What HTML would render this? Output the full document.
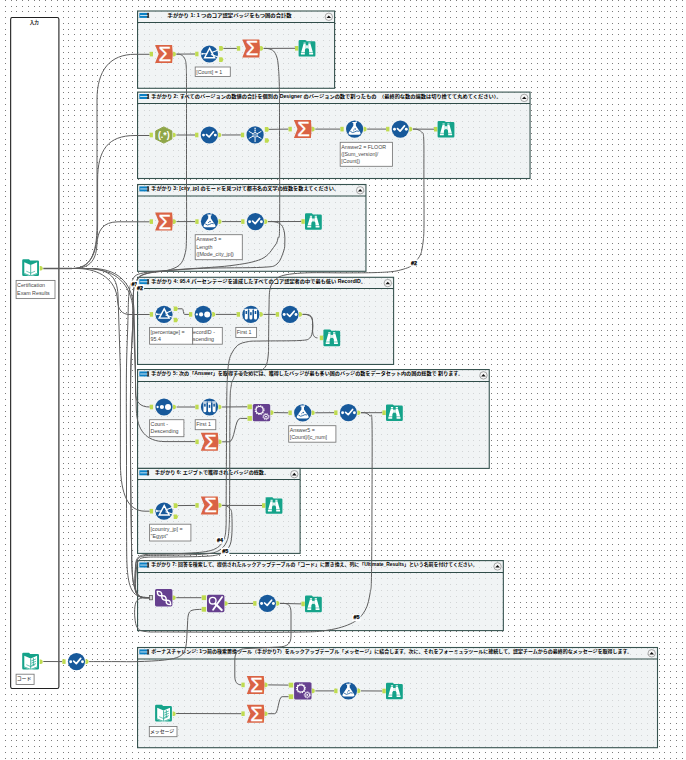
<!DOCTYPE html>
<html lang="ja"><head><meta charset="utf-8"><title>Alteryx workflow</title>
<style>html,body{margin:0;padding:0;background:#fff;}body{width:686px;height:760px;overflow:hidden;}svg{display:block;}text{font-family:"Liberation Sans", "Noto Sans CJK JP", sans-serif;}</style>
</head><body>
<svg width="686" height="760" viewBox="0 0 686 760">
<defs><g id="dr" fill="#7c7c7c" shape-rendering="crispEdges">
<rect x="5" width="1" height="1"/><rect x="11" width="1" height="1"/><rect x="16" width="1" height="1"/><rect x="22" width="1" height="1"/><rect x="28" width="1" height="1"/><rect x="34" width="1" height="1"/><rect x="39" width="1" height="1"/><rect x="45" width="1" height="1"/><rect x="51" width="1" height="1"/><rect x="57" width="1" height="1"/><rect x="63" width="1" height="1"/><rect x="68" width="1" height="1"/><rect x="74" width="1" height="1"/><rect x="80" width="1" height="1"/><rect x="86" width="1" height="1"/><rect x="92" width="1" height="1"/><rect x="97" width="1" height="1"/><rect x="103" width="1" height="1"/><rect x="109" width="1" height="1"/><rect x="115" width="1" height="1"/><rect x="120" width="1" height="1"/><rect x="126" width="1" height="1"/><rect x="132" width="1" height="1"/><rect x="138" width="1" height="1"/><rect x="144" width="1" height="1"/><rect x="149" width="1" height="1"/><rect x="155" width="1" height="1"/><rect x="161" width="1" height="1"/><rect x="167" width="1" height="1"/><rect x="173" width="1" height="1"/><rect x="178" width="1" height="1"/><rect x="184" width="1" height="1"/><rect x="190" width="1" height="1"/><rect x="196" width="1" height="1"/><rect x="202" width="1" height="1"/><rect x="207" width="1" height="1"/><rect x="213" width="1" height="1"/><rect x="219" width="1" height="1"/><rect x="225" width="1" height="1"/><rect x="230" width="1" height="1"/><rect x="236" width="1" height="1"/><rect x="242" width="1" height="1"/><rect x="248" width="1" height="1"/><rect x="254" width="1" height="1"/><rect x="259" width="1" height="1"/><rect x="265" width="1" height="1"/><rect x="271" width="1" height="1"/><rect x="277" width="1" height="1"/><rect x="283" width="1" height="1"/><rect x="288" width="1" height="1"/><rect x="294" width="1" height="1"/><rect x="300" width="1" height="1"/><rect x="306" width="1" height="1"/><rect x="311" width="1" height="1"/><rect x="317" width="1" height="1"/><rect x="323" width="1" height="1"/><rect x="329" width="1" height="1"/><rect x="335" width="1" height="1"/><rect x="340" width="1" height="1"/><rect x="346" width="1" height="1"/><rect x="352" width="1" height="1"/><rect x="358" width="1" height="1"/><rect x="364" width="1" height="1"/><rect x="369" width="1" height="1"/><rect x="375" width="1" height="1"/><rect x="381" width="1" height="1"/><rect x="387" width="1" height="1"/><rect x="392" width="1" height="1"/><rect x="398" width="1" height="1"/><rect x="404" width="1" height="1"/><rect x="410" width="1" height="1"/><rect x="416" width="1" height="1"/><rect x="421" width="1" height="1"/><rect x="427" width="1" height="1"/><rect x="433" width="1" height="1"/><rect x="439" width="1" height="1"/><rect x="445" width="1" height="1"/><rect x="450" width="1" height="1"/><rect x="456" width="1" height="1"/><rect x="462" width="1" height="1"/><rect x="468" width="1" height="1"/><rect x="473" width="1" height="1"/><rect x="479" width="1" height="1"/><rect x="485" width="1" height="1"/><rect x="491" width="1" height="1"/><rect x="497" width="1" height="1"/><rect x="502" width="1" height="1"/><rect x="508" width="1" height="1"/><rect x="514" width="1" height="1"/><rect x="520" width="1" height="1"/><rect x="526" width="1" height="1"/><rect x="531" width="1" height="1"/><rect x="537" width="1" height="1"/><rect x="543" width="1" height="1"/><rect x="549" width="1" height="1"/><rect x="555" width="1" height="1"/><rect x="560" width="1" height="1"/><rect x="566" width="1" height="1"/><rect x="572" width="1" height="1"/><rect x="578" width="1" height="1"/><rect x="583" width="1" height="1"/><rect x="589" width="1" height="1"/><rect x="595" width="1" height="1"/><rect x="601" width="1" height="1"/><rect x="607" width="1" height="1"/><rect x="612" width="1" height="1"/><rect x="618" width="1" height="1"/><rect x="624" width="1" height="1"/><rect x="630" width="1" height="1"/><rect x="636" width="1" height="1"/><rect x="641" width="1" height="1"/><rect x="647" width="1" height="1"/><rect x="653" width="1" height="1"/><rect x="659" width="1" height="1"/><rect x="664" width="1" height="1"/><rect x="670" width="1" height="1"/><rect x="676" width="1" height="1"/><rect x="682" width="1" height="1"/>
</g></defs>
<rect width="686" height="760" fill="#fff"/>
<g><use href="#dr" y="0"/><use href="#dr" y="6"/><use href="#dr" y="11"/><use href="#dr" y="17"/><use href="#dr" y="23"/><use href="#dr" y="29"/><use href="#dr" y="34"/><use href="#dr" y="40"/><use href="#dr" y="46"/><use href="#dr" y="52"/><use href="#dr" y="58"/><use href="#dr" y="63"/><use href="#dr" y="69"/><use href="#dr" y="75"/><use href="#dr" y="81"/><use href="#dr" y="87"/><use href="#dr" y="92"/><use href="#dr" y="98"/><use href="#dr" y="104"/><use href="#dr" y="110"/><use href="#dr" y="115"/><use href="#dr" y="121"/><use href="#dr" y="127"/><use href="#dr" y="133"/><use href="#dr" y="139"/><use href="#dr" y="144"/><use href="#dr" y="150"/><use href="#dr" y="156"/><use href="#dr" y="162"/><use href="#dr" y="168"/><use href="#dr" y="173"/><use href="#dr" y="179"/><use href="#dr" y="185"/><use href="#dr" y="191"/><use href="#dr" y="196"/><use href="#dr" y="202"/><use href="#dr" y="208"/><use href="#dr" y="214"/><use href="#dr" y="220"/><use href="#dr" y="225"/><use href="#dr" y="231"/><use href="#dr" y="237"/><use href="#dr" y="243"/><use href="#dr" y="249"/><use href="#dr" y="254"/><use href="#dr" y="260"/><use href="#dr" y="266"/><use href="#dr" y="272"/><use href="#dr" y="278"/><use href="#dr" y="283"/><use href="#dr" y="289"/><use href="#dr" y="295"/><use href="#dr" y="301"/><use href="#dr" y="306"/><use href="#dr" y="312"/><use href="#dr" y="318"/><use href="#dr" y="324"/><use href="#dr" y="330"/><use href="#dr" y="335"/><use href="#dr" y="341"/><use href="#dr" y="347"/><use href="#dr" y="353"/><use href="#dr" y="359"/><use href="#dr" y="364"/><use href="#dr" y="370"/><use href="#dr" y="376"/><use href="#dr" y="382"/><use href="#dr" y="387"/><use href="#dr" y="393"/><use href="#dr" y="399"/><use href="#dr" y="405"/><use href="#dr" y="411"/><use href="#dr" y="416"/><use href="#dr" y="422"/><use href="#dr" y="428"/><use href="#dr" y="434"/><use href="#dr" y="440"/><use href="#dr" y="445"/><use href="#dr" y="451"/><use href="#dr" y="457"/><use href="#dr" y="463"/><use href="#dr" y="468"/><use href="#dr" y="474"/><use href="#dr" y="480"/><use href="#dr" y="486"/><use href="#dr" y="492"/><use href="#dr" y="497"/><use href="#dr" y="503"/><use href="#dr" y="509"/><use href="#dr" y="515"/><use href="#dr" y="521"/><use href="#dr" y="526"/><use href="#dr" y="532"/><use href="#dr" y="538"/><use href="#dr" y="544"/><use href="#dr" y="550"/><use href="#dr" y="555"/><use href="#dr" y="561"/><use href="#dr" y="567"/><use href="#dr" y="573"/><use href="#dr" y="578"/><use href="#dr" y="584"/><use href="#dr" y="590"/><use href="#dr" y="596"/><use href="#dr" y="602"/><use href="#dr" y="607"/><use href="#dr" y="613"/><use href="#dr" y="619"/><use href="#dr" y="625"/><use href="#dr" y="631"/><use href="#dr" y="636"/><use href="#dr" y="642"/><use href="#dr" y="648"/><use href="#dr" y="654"/><use href="#dr" y="659"/><use href="#dr" y="665"/><use href="#dr" y="671"/><use href="#dr" y="677"/><use href="#dr" y="683"/><use href="#dr" y="688"/><use href="#dr" y="694"/><use href="#dr" y="700"/><use href="#dr" y="706"/><use href="#dr" y="712"/><use href="#dr" y="717"/><use href="#dr" y="723"/><use href="#dr" y="729"/><use href="#dr" y="735"/><use href="#dr" y="740"/><use href="#dr" y="746"/><use href="#dr" y="752"/><use href="#dr" y="758"/></g>
<rect x="10.65" y="17.5" width="48.25" height="671" rx="1.8" fill="#fff" stroke="#202020" stroke-width="1.1"/>
<text x="34.2" y="23.7" font-size="4.5" font-weight="700" text-anchor="middle" fill="#111">入力</text>
<rect x="137.55" y="11" width="197.05" height="77.3" fill="#ecf1f2" fill-opacity="0.76" stroke="#36534f" stroke-width="1.1"/>
<line x1="137.55" y1="22.45" x2="334.6" y2="22.45" stroke="#2f4c49" stroke-width="1.05"/>
<rect x="139.35" y="12.9" width="9.6" height="5" fill="#0c80c4"/>
<rect x="146.95" y="12.9" width="2.1" height="5" fill="#3d3d3d"/>
<rect x="140.15" y="15" width="7.4" height="0.9" fill="#fff" opacity="0.85"/>
<circle cx="328.8" cy="16.8" r="3.7" fill="#f6f6f6" stroke="#7d7d7d" stroke-width="0.65"/>
<path d="M326.5,18 l2.3,-2.6 l2.3,2.6 Z" fill="#111"/>
<text x="167.6" y="16.6" font-size="4.75" font-weight="700" fill="#000" textLength="124.1" lengthAdjust="spacingAndGlyphs">手がかり 1: 1 つのコア認定バッジをもつ国の合計数</text>
<rect x="137.55" y="92.1" width="392.5" height="86.4" fill="#ecf1f2" fill-opacity="0.76" stroke="#36534f" stroke-width="1.1"/>
<line x1="137.55" y1="103.45" x2="530.05" y2="103.45" stroke="#2f4c49" stroke-width="1.05"/>
<rect x="139.35" y="94" width="9.6" height="5" fill="#0c80c4"/>
<rect x="146.95" y="94" width="2.1" height="5" fill="#3d3d3d"/>
<rect x="140.15" y="96.1" width="7.4" height="0.9" fill="#fff" opacity="0.85"/>
<circle cx="524.25" cy="97.9" r="3.7" fill="#f6f6f6" stroke="#7d7d7d" stroke-width="0.65"/>
<path d="M521.95,99.1 l2.3,-2.6 l2.3,2.6 Z" fill="#111"/>
<text x="151.3" y="97.7" font-size="4.75" font-weight="700" fill="#000" textLength="350.2" lengthAdjust="spacingAndGlyphs">手がかり 2: すべてのバージョンの数値の合計を個別の Designer のバージョンの数で割ったもの　（最終的な数の端数は切り捨てて丸めてください）。</text>
<rect x="137.55" y="184.5" width="228.4" height="86.8" fill="#ecf1f2" fill-opacity="0.76" stroke="#36534f" stroke-width="1.1"/>
<line x1="137.55" y1="196" x2="365.95" y2="196" stroke="#2f4c49" stroke-width="1.05"/>
<rect x="139.35" y="186.4" width="9.6" height="5" fill="#0c80c4"/>
<rect x="146.95" y="186.4" width="2.1" height="5" fill="#3d3d3d"/>
<rect x="140.15" y="188.5" width="7.4" height="0.9" fill="#fff" opacity="0.85"/>
<circle cx="360.15" cy="190.3" r="3.7" fill="#f6f6f6" stroke="#7d7d7d" stroke-width="0.65"/>
<path d="M357.85,191.5 l2.3,-2.6 l2.3,2.6 Z" fill="#111"/>
<text x="151.3" y="190.1" font-size="4.75" font-weight="700" fill="#000" textLength="187.7" lengthAdjust="spacingAndGlyphs">手がかり 3: [city_jp] のモードを見つけて都市名の文字の総数を数えてください。</text>
<rect x="137.55" y="277.3" width="256.05" height="87.15" fill="#ecf1f2" fill-opacity="0.76" stroke="#36534f" stroke-width="1.1"/>
<line x1="137.55" y1="288.5" x2="393.6" y2="288.5" stroke="#2f4c49" stroke-width="1.05"/>
<rect x="139.35" y="279.2" width="9.6" height="5" fill="#0c80c4"/>
<rect x="146.95" y="279.2" width="2.1" height="5" fill="#3d3d3d"/>
<rect x="140.15" y="281.3" width="7.4" height="0.9" fill="#fff" opacity="0.85"/>
<circle cx="387.8" cy="283.1" r="3.7" fill="#f6f6f6" stroke="#7d7d7d" stroke-width="0.65"/>
<path d="M385.5,284.3 l2.3,-2.6 l2.3,2.6 Z" fill="#111"/>
<text x="151.3" y="282.9" font-size="4.75" font-weight="700" fill="#000" textLength="214.7" lengthAdjust="spacingAndGlyphs">手がかり 4: 95.4 パーセンテージを達成したすべてのコア認定者の中で最も低い RecordID。</text>
<rect x="137.55" y="369.55" width="351.7" height="98.85" fill="#ecf1f2" fill-opacity="0.76" stroke="#36534f" stroke-width="1.1"/>
<line x1="137.55" y1="381.5" x2="489.25" y2="381.5" stroke="#2f4c49" stroke-width="1.05"/>
<rect x="139.35" y="371.45" width="9.6" height="5" fill="#0c80c4"/>
<rect x="146.95" y="371.45" width="2.1" height="5" fill="#3d3d3d"/>
<rect x="140.15" y="373.55" width="7.4" height="0.9" fill="#fff" opacity="0.85"/>
<circle cx="483.45" cy="375.35" r="3.7" fill="#f6f6f6" stroke="#7d7d7d" stroke-width="0.65"/>
<path d="M481.15,376.55 l2.3,-2.6 l2.3,2.6 Z" fill="#111"/>
<text x="151.3" y="375.15" font-size="4.75" font-weight="700" fill="#000" textLength="311.7" lengthAdjust="spacingAndGlyphs">手がかり 5: 次の「Answer」を取得するためには、獲得したバッジが最も多い国のバッジの数をデータセット内の国の総数で 割ります。</text>
<rect x="137.55" y="468.4" width="162.55" height="85" fill="#ecf1f2" fill-opacity="0.76" stroke="#36534f" stroke-width="1.1"/>
<line x1="137.55" y1="479.55" x2="300.1" y2="479.55" stroke="#2f4c49" stroke-width="1.05"/>
<rect x="139.35" y="470.3" width="9.6" height="5" fill="#0c80c4"/>
<rect x="146.95" y="470.3" width="2.1" height="5" fill="#3d3d3d"/>
<rect x="140.15" y="472.4" width="7.4" height="0.9" fill="#fff" opacity="0.85"/>
<circle cx="294.3" cy="474.2" r="3.7" fill="#f6f6f6" stroke="#7d7d7d" stroke-width="0.65"/>
<path d="M292,475.4 l2.3,-2.6 l2.3,2.6 Z" fill="#111"/>
<text x="155" y="474" font-size="4.75" font-weight="700" fill="#000" textLength="114" lengthAdjust="spacingAndGlyphs">手がかり 6: エジプトで獲得されたバッジの総数。</text>
<rect x="137.55" y="560.6" width="365.8" height="70" fill="#ecf1f2" fill-opacity="0.76" stroke="#36534f" stroke-width="1.1"/>
<line x1="137.55" y1="572.5" x2="503.35" y2="572.5" stroke="#2f4c49" stroke-width="1.05"/>
<rect x="139.35" y="562.5" width="9.6" height="5" fill="#0c80c4"/>
<rect x="146.95" y="562.5" width="2.1" height="5" fill="#3d3d3d"/>
<rect x="140.15" y="564.6" width="7.4" height="0.9" fill="#fff" opacity="0.85"/>
<circle cx="497.55" cy="566.4" r="3.7" fill="#f6f6f6" stroke="#7d7d7d" stroke-width="0.65"/>
<path d="M495.25,567.6 l2.3,-2.6 l2.3,2.6 Z" fill="#111"/>
<text x="151.3" y="566.2" font-size="4.75" font-weight="700" fill="#000" textLength="326.3" lengthAdjust="spacingAndGlyphs">手がかり 7: 回答を検索して、提供されたルックアップテーブルの「コード」に置き換え、列に「Ultimate_Results」という名前を付けてください。</text>
<rect x="137.55" y="647.5" width="519.95" height="100.2" fill="#ecf1f2" fill-opacity="0.76" stroke="#36534f" stroke-width="1.1"/>
<line x1="137.55" y1="659" x2="657.5" y2="659" stroke="#2f4c49" stroke-width="1.05"/>
<rect x="139.35" y="649.4" width="9.6" height="5" fill="#0c80c4"/>
<rect x="146.95" y="649.4" width="2.1" height="5" fill="#3d3d3d"/>
<rect x="140.15" y="651.5" width="7.4" height="0.9" fill="#fff" opacity="0.85"/>
<circle cx="651.7" cy="653.3" r="3.7" fill="#f6f6f6" stroke="#7d7d7d" stroke-width="0.65"/>
<path d="M649.4,654.5 l2.3,-2.6 l2.3,2.6 Z" fill="#111"/>
<text x="151.3" y="653.1" font-size="4.75" font-weight="700" fill="#000" textLength="480.7" lengthAdjust="spacingAndGlyphs">ボーナスチャレンジ: 1つ前の検索置換ツール（手がかり7）をルックアップテーブル「メッセージ」に結合します。次に、それをフォーミュラツールに接続して、認定チームからの最終的なメッセージを取得します。</text>
<path d="M176.5,54.1 L195.1,54" fill="none" stroke="#5e5e5e" stroke-width="1"/>
<path d="M223.3,48.4 L236.8,48.4" fill="none" stroke="#5e5e5e" stroke-width="1"/>
<path d="M263.7,48.4 L295,48.3" fill="none" stroke="#5e5e5e" stroke-width="1"/>
<path d="M176.4,135 L195,135" fill="none" stroke="#5e5e5e" stroke-width="1"/>
<path d="M221.9,135 L240.8,134.95" fill="none" stroke="#5e5e5e" stroke-width="1"/>
<path d="M269,129.35 L288.4,129.1" fill="none" stroke="#5e5e5e" stroke-width="1"/>
<path d="M315.3,129.1 L340.3,129.1" fill="none" stroke="#5e5e5e" stroke-width="1"/>
<path d="M367.2,129.1 L386,129.1" fill="none" stroke="#5e5e5e" stroke-width="1"/>
<path d="M412.9,129.1 L434,129.2" fill="none" stroke="#5e5e5e" stroke-width="1"/>
<path d="M176.5,221.6 L195.2,221.6" fill="none" stroke="#5e5e5e" stroke-width="1"/>
<path d="M222.1,221.6 L241.1,221.6" fill="none" stroke="#5e5e5e" stroke-width="1"/>
<path d="M268,221.6 L301.4,221.5" fill="none" stroke="#5e5e5e" stroke-width="1"/>
<path d="M177.9,308.8 H182.4 C183.4,308.8 183.4,314.4 184.4,314.4 H188.9" fill="none" stroke="#5e5e5e" stroke-width="1"/>
<path d="M215.8,314.4 L236.6,314.4" fill="none" stroke="#5e5e5e" stroke-width="1"/>
<path d="M263.5,314.4 L275.7,314.4" fill="none" stroke="#5e5e5e" stroke-width="1"/>
<path d="M176.6,407 L195.2,407" fill="none" stroke="#5e5e5e" stroke-width="1"/>
<path d="M222.1,407 L247.3,406.8" fill="none" stroke="#5e5e5e" stroke-width="1"/>
<path d="M274.1,412.6 L288.4,412.8" fill="none" stroke="#5e5e5e" stroke-width="1"/>
<path d="M315.3,412.8 L334.1,412.7" fill="none" stroke="#5e5e5e" stroke-width="1"/>
<path d="M361,412.7 L382.4,412.7" fill="none" stroke="#5e5e5e" stroke-width="1"/>
<path d="M222.2,441.8 H229.2 C234.75,441.8 234.75,418.4 240.3,418.4 H247.3" fill="none" stroke="#5e5e5e" stroke-width="1"/>
<path d="M177.9,505.6 L195.3,505.4" fill="none" stroke="#5e5e5e" stroke-width="1"/>
<path d="M222.2,505.4 L262,505.5" fill="none" stroke="#5e5e5e" stroke-width="1"/>
<path d="M176.3,597.7 L201.5,597.7" fill="none" stroke="#5e5e5e" stroke-width="1"/>
<path d="M228.3,603.5 L253.1,603.4" fill="none" stroke="#5e5e5e" stroke-width="1"/>
<path d="M280,603.4 L301.4,603.9" fill="none" stroke="#5e5e5e" stroke-width="1"/>
<path d="M176.2,713.5 L241.3,713.7" fill="none" stroke="#5e5e5e" stroke-width="1"/>
<path d="M268.2,684.9 L288.6,685.1" fill="none" stroke="#5e5e5e" stroke-width="1"/>
<path d="M268.2,713.7 H274.7 C278.4,713.7 278.4,696.7 282.1,696.7 H288.6" fill="none" stroke="#5e5e5e" stroke-width="1"/>
<path d="M315.4,690.9 L334.1,690.9" fill="none" stroke="#5e5e5e" stroke-width="1"/>
<path d="M361,690.9 L382.4,691" fill="none" stroke="#5e5e5e" stroke-width="1"/>
<path d="M43.3,661.5 L62.2,661.6" fill="none" stroke="#5e5e5e" stroke-width="1"/>
<path d="M302.6,314.4 H306 C311,314.6 312.6,317 312.6,322 V330 C312.6,335 314,337.7 317.5,337.9" fill="none" stroke="#5e5e5e" stroke-width="1"/>
<path d="M43.3,268.5 H72" fill="none" stroke="#5e5e5e" stroke-width="1.5"/>
<path d="M60,268.5 H72 C90,268.5 97,255 97,225 V100 C97,70 110,54.3 135,54.3 H149.6" fill="none" stroke="#5e5e5e" stroke-width="1"/>
<path d="M60,268.5 H72 C90,268.5 97.6,255 97.6,225 V180 C97.6,150 108,135.5 135,135.5 H149.5" fill="none" stroke="#5e5e5e" stroke-width="1"/>
<path d="M60,268.5 H74 C88,268.5 96,262 96.9,245 C97.5,230 103,222 118,221.8 H149.6" fill="none" stroke="#5e5e5e" stroke-width="1"/>
<path d="M60,268.5 H78 C100,269 116,280 117.5,300 C118,310 122,314.5 130,314.5 H149.7" fill="none" stroke="#5e5e5e" stroke-width="1"/>
<path d="M60,268.5 H95 C120,270 133,285 134,310 L135.5,370 V392 C135.5,402 140,407 149.7,407" fill="none" stroke="#5e5e5e" stroke-width="1"/>
<path d="M60,268.5 H90 C115,270 131,283 133.2,310 L135.2,370 L136.3,410 C137,430 146,441.6 165,441.6 H195.3" fill="none" stroke="#5e5e5e" stroke-width="1"/>
<path d="M60,268.5 H85 C108,269 117,275 118,295 L120.4,370 V465 C121,495 128,511 145,511.2 H149.7" fill="none" stroke="#5e5e5e" stroke-width="1"/>
<path d="M176.5,54.2 C177.17,54.27 179.18,53.97 180.5,54.6 C181.82,55.23 183.45,56.1 184.4,58 C185.35,59.9 185.85,60.5 186.2,66 C186.55,71.5 186.45,72.83 186.5,91 C186.55,109.17 186.5,150.83 186.5,175 C186.5,199.17 186.75,222.83 186.5,236 C186.25,249.17 186.17,249.17 185,254 C183.83,258.83 182.5,262.25 179.5,265 C176.5,267.75 171.75,269.25 167,270.5 C162.25,271.75 155.5,271.5 151,272.5 C146.5,273.5 142.67,274.58 140,276.5 C137.33,278.42 136.08,281.42 135,284 C133.92,286.58 133.88,285.17 133.5,292 C133.12,298.83 133.17,311.17 132.7,325 C132.23,338.83 131.07,353.33 130.7,375 C130.33,396.67 130.38,428.33 130.5,455 C130.62,481.67 131.13,515.92 131.4,535 C131.67,554.08 131.63,561 132.1,569.5 C132.57,578 132.93,581.53 134.2,586 C135.47,590.47 137.17,594.35 139.7,596.3 C142.23,598.25 147.78,597.47 149.4,597.7" fill="none" stroke="#5e5e5e" stroke-width="1"/>
<path d="M263.7,48.4 C264.5,48.45 266.87,48.27 268.5,48.7 C270.13,49.13 272.12,49.62 273.5,51 C274.88,52.38 276,54.5 276.8,57 C277.6,59.5 277.88,61.33 278.3,66 C278.72,70.67 279.1,76 279.3,85 C279.5,94 279.45,96.67 279.5,120 C279.55,143.33 279.85,205.33 279.6,225 C279.35,244.67 278.83,234.5 278,238 C277.17,241.5 277.37,242.5 274.6,246 C271.83,249.5 268.83,255.72 261.4,259 C253.97,262.28 243.98,263.93 230,265.7 C216.02,267.47 192.38,268.3 177.5,269.6 C162.62,270.9 148.28,271.6 140.7,273.5 C133.12,275.4 133.87,278.25 132,281 C130.13,283.75 130.08,286.83 129.5,290 C128.92,293.17 128.78,294.17 128.5,300 C128.22,305.83 128.15,312.5 127.8,325 C127.45,337.5 126.62,353.33 126.4,375 C126.18,396.67 126.47,428.33 126.5,455 C126.53,481.67 126.47,515.92 126.6,535 C126.73,554.08 126.62,560.75 127.3,569.5 C127.98,578.25 128.98,583.12 130.7,587.5 C132.42,591.88 134.48,594.1 137.6,595.8 C140.72,597.5 147.43,597.38 149.4,597.7" fill="none" stroke="#5e5e5e" stroke-width="1"/>
<path d="M268,221.6 C269.17,221.65 272.75,221.33 275,221.9 C277.25,222.47 279.92,223.15 281.5,225 C283.08,226.85 283.95,230 284.5,233 C285.05,236 284.93,240 284.8,243 C284.67,246 285,247.5 283.7,251 C282.4,254.5 280.62,261.28 277,264 C273.38,266.72 274.22,266.58 262,267.3 C249.78,268.02 220.7,267.6 203.7,268.3 C186.7,269 170.45,270.3 160,271.5 C149.55,272.7 145,273.58 141,275.5 C137,277.42 137.25,280.25 136,283 C134.75,285.75 134.05,285 133.5,292 C132.95,299 133.17,311.17 132.7,325 C132.23,338.83 131.07,353.33 130.7,375 C130.33,396.67 130.38,428.33 130.5,455 C130.62,481.67 131.13,515.92 131.4,535 C131.67,554.08 131.63,561 132.1,569.5 C132.57,578 132.93,581.53 134.2,586 C135.47,590.47 137.17,594.35 139.7,596.3 C142.23,598.25 147.78,597.47 149.4,597.7" fill="none" stroke="#5e5e5e" stroke-width="1"/>
<path d="M412.9,129.1 C413.58,129.15 415.57,128.92 417,129.4 C418.43,129.88 420.38,130.57 421.5,132 C422.62,133.43 423.3,130.83 423.7,138 C424.1,145.17 423.85,160.5 423.9,175 C423.95,189.5 424.1,214.17 424,225 C423.9,235.83 423.67,235.83 423.3,240 C422.93,244.17 422.23,247.65 421.8,250 C421.37,252.35 421.33,252.65 420.7,254.1 C420.07,255.55 419.12,257.22 418,258.7 C416.88,260.18 415.4,261.63 414,263 C412.6,264.37 411.8,265.75 409.6,266.9 C407.4,268.05 403.73,269.12 400.8,269.9 C397.87,270.68 396.3,271.15 392,271.6 C387.7,272.05 382.83,272.38 375,272.6 C367.17,272.82 356.18,272.87 345,272.9 C333.82,272.93 317.9,272.45 307.9,272.8 C297.9,273.15 290.48,273.8 285,275 C279.52,276.2 277.5,277.67 275,280 C272.5,282.33 271,284.33 270,289 C269,293.67 269.23,299.5 269,308 C268.77,316.5 268.7,332.5 268.6,340 C268.5,347.5 268.72,349 268.4,353 C268.08,357 267.65,361.25 266.7,364 C265.75,366.75 264.23,368.25 262.7,369.5 C261.17,370.75 261.65,370.75 257.5,371.5 C253.35,372.25 241.85,372.68 237.8,374 C233.75,375.32 234.3,377.4 233.2,379.4 C232.1,381.4 231.73,381.63 231.2,386 C230.67,390.37 230.27,386.6 230,405.6 C229.73,424.6 229.77,479.43 229.6,500 C229.43,520.57 229.52,522 229,529 C228.48,536 228.17,538.42 226.5,542 C224.83,545.58 222.58,548.5 219,550.5 C215.42,552.5 213.17,553.22 205,554 C196.83,554.78 179.83,554.92 170,555.2 C160.17,555.48 151.4,555.03 146,555.7 C140.6,556.37 139.35,556.9 137.6,559.2 C135.85,561.5 135.92,564.78 135.5,569.5 C135.08,574.22 134.85,583.35 135.1,587.5 C135.35,591.65 135.88,592.75 137,594.4 C138.12,596.05 139.73,596.85 141.8,597.4 C143.87,597.95 148.13,597.65 149.4,597.7" fill="none" stroke="#5e5e5e" stroke-width="1"/>
<path d="M302.6,314.4 C303.33,314.45 305.6,314.27 307,314.7 C308.4,315.13 310.07,315.78 311,317 C311.93,318.22 312.33,319.83 312.6,322 C312.87,324.17 313.07,327.33 312.6,330 C312.13,332.67 311.9,336.25 309.8,338 C307.7,339.75 307.97,340 300,340.5 C292.03,341 270.62,340.82 262,341 C253.38,341.18 252.33,340.9 248.3,341.6 C244.27,342.3 240.65,343.07 237.8,345.2 C234.95,347.33 232.73,351.33 231.2,354.4 C229.67,357.47 229.25,359.43 228.6,363.6 C227.95,367.77 227.62,372.4 227.3,379.4 C226.98,386.4 226.88,385.5 226.7,405.6 C226.52,425.7 226.32,479.77 226.2,500 C226.08,520.23 226.37,520.5 226,527 C225.63,533.5 225.42,535.58 224,539 C222.58,542.42 221,545.33 217.5,547.5 C214,549.67 210.92,550.92 203,552 C195.08,553.08 179.5,553.58 170,554 C160.5,554.42 151.45,553.75 146,554.5 C140.55,555.25 139.08,556 137.3,558.5 C135.52,561 135.68,564.67 135.3,569.5 C134.92,574.33 134.72,583.35 135,587.5 C135.28,591.65 135.87,592.75 137,594.4 C138.13,596.05 139.73,596.85 141.8,597.4 C143.87,597.95 148.13,597.65 149.4,597.7" fill="none" stroke="#5e5e5e" stroke-width="1"/>
<path d="M222.2,505.4 C222.83,505.45 224.7,505.18 226,505.7 C227.3,506.22 229.03,507.12 230,508.5 C230.97,509.88 231.5,509.58 231.8,514 C232.1,518.42 232.27,529.5 231.8,535 C231.33,540.5 230.97,543.83 229,547 C227.03,550.17 224,552.45 220,554 C216,555.55 213.33,555.8 205,556.3 C196.67,556.8 179.83,556.83 170,557 C160.17,557.17 151.25,556.72 146,557.3 C140.75,557.88 140.12,558.38 138.5,560.5 C136.88,562.62 136.78,565.5 136.3,570 C135.82,574.5 135.43,583.43 135.6,587.5 C135.77,591.57 136.27,592.75 137.3,594.4 C138.33,596.05 139.78,596.85 141.8,597.4 C143.82,597.95 148.13,597.65 149.4,597.7" fill="none" stroke="#5e5e5e" stroke-width="1"/>
<path d="M361,412.7 C361.75,412.75 364,412.45 365.5,413 C367,413.55 368.92,414.33 370,416 C371.08,417.67 371.67,409 372,423 C372.33,437 372.08,474.67 372,500 C371.92,525.33 371.8,559.57 371.5,575 C371.2,590.43 371.25,586.73 370.2,592.6 C369.15,598.47 368.12,605.18 365.2,610.2 C362.28,615.22 358.97,619.37 352.7,622.7 C346.43,626.03 338.05,628.62 327.6,630.2 C317.15,631.78 316.27,631.9 290,632.2 C263.73,632.5 194,632.1 170,632 C146,631.9 151.42,632.27 146,631.6 C140.58,630.93 139.35,630.27 137.5,628 C135.65,625.73 135.33,621.53 134.9,618 C134.47,614.47 134.55,609.72 134.9,606.8 C135.25,603.88 135.82,601.97 137,600.5 C138.18,599.03 139.93,598.47 142,598 C144.07,597.53 148.17,597.75 149.4,597.7" fill="none" stroke="#5e5e5e" stroke-width="1"/>
<path d="M280,603.4 H284 C289.6,603.6 291,607 291,613 V636 C291,644 287,646.6 279,647 L246,648.6 C238,649 234.8,652 234.8,660 V676 C234.8,682 237,684.7 241.3,684.9" fill="none" stroke="#5e5e5e" stroke-width="1"/>
<path d="M89.1,661.6 C93.42,661.6 106.85,661.6 115,661.6 C123.15,661.6 129.73,661.87 138,661.6 C146.27,661.33 157.65,660.88 164.6,660 C171.55,659.12 176.2,658.3 179.7,656.3 C183.2,654.3 184.33,652.72 185.6,648 C186.87,643.28 186.85,633.5 187.3,628 C187.75,622.5 187.52,617.95 188.3,615 C189.08,612.05 189.8,611.25 192,610.3 C194.2,609.35 199.92,609.47 201.5,609.3" fill="none" stroke="#5e5e5e" stroke-width="1"/>
<rect x="130.3" y="280.5" width="8.2" height="6.8" fill="#fff"/>
<text x="134.4" y="285.5" font-size="5.4" font-weight="bold" text-anchor="middle" fill="#000" stroke="#000" stroke-width="0.25">#1</text>
<rect x="135.9" y="284.5" width="8.2" height="6.8" fill="#fff"/>
<text x="140" y="289.5" font-size="5.4" font-weight="bold" text-anchor="middle" fill="#000" stroke="#000" stroke-width="0.25">#2</text>
<rect x="409.9" y="259.5" width="8.2" height="6.8" fill="#fff"/>
<text x="414" y="264.5" font-size="5.4" font-weight="bold" text-anchor="middle" fill="#000" stroke="#000" stroke-width="0.25">#2</text>
<rect x="215.8" y="536.9" width="8.2" height="6.8" fill="#fff"/>
<text x="219.9" y="541.9" font-size="5.4" font-weight="bold" text-anchor="middle" fill="#000" stroke="#000" stroke-width="0.25">#4</text>
<rect x="221.1" y="547.7" width="8.2" height="6.8" fill="#fff"/>
<text x="225.2" y="552.7" font-size="5.4" font-weight="bold" text-anchor="middle" fill="#000" stroke="#000" stroke-width="0.25">#5</text>
<rect x="352.3" y="614.4" width="8.2" height="6.8" fill="#fff"/>
<text x="356.4" y="619.4" font-size="5.4" font-weight="bold" text-anchor="middle" fill="#000" stroke="#000" stroke-width="0.25">#5</text>
<path d="M39.7,266 h1.2 q1.9,0.2 1.9,2.3 t-1.9,2.3 h-1.2 Z" fill="#bfdb50"/>
<path d="M23.4,259.3 h5.6 l1.2,1.3 h7.6 q1.2,0 1.2,1.2 v13 q0,1.2 -1.2,1.2 h-14.4 q-1.2,0 -1.2,-1.2 v-14.3 q0,-1.2 1.2,-1.2 Z" fill="#15a38a"/>
<path d="M24.3,262.3 l6.4,2.6 l6.4,-2.6 v10.6 l-6.4,2.7 l-6.4,-2.7 Z" fill="#fff"/>
<path d="M30.7,265 v10.4" stroke="#15a38a" stroke-width="0.8"/>
<path d="M26.3,271.2 l4.4,1.9 l4.4,-1.9" fill="none" stroke="#15a38a" stroke-width="0.6"/>
<path d="M23.8,273.5 l6.9,2.9 l6.9,-2.9" fill="none" stroke="#fff" stroke-width="0.5" opacity="0.8"/>
<path d="M39.7,659.5 h1.2 q1.9,0.2 1.9,2.3 t-1.9,2.3 h-1.2 Z" fill="#bfdb50"/>
<path d="M23.4,652.8 h5.6 l1.2,1.3 h7.6 q1.2,0 1.2,1.2 v13 q0,1.2 -1.2,1.2 h-14.4 q-1.2,0 -1.2,-1.2 v-14.3 q0,-1.2 1.2,-1.2 Z" fill="#15a38a"/>
<path d="M24.3,655.8 l6.4,2.6 l6.4,-2.6 v10.6 l-6.4,2.7 l-6.4,-2.7 Z" fill="#fff"/>
<path d="M30.7,658.5 v10.4" stroke="#15a38a" stroke-width="0.8"/>
<path d="M26.3,664.7 l4.4,1.9 l4.4,-1.9" fill="none" stroke="#15a38a" stroke-width="0.6"/>
<path d="M23.8,667 l6.9,2.9 l6.9,-2.9" fill="none" stroke="#fff" stroke-width="0.5" opacity="0.8"/>
<path d="M33.4,657.9 v7.6 M31.3,660.9 l4.6,-1.9 M31.3,663.2 l4.6,-1.9 M31.3,665.5 l4.6,-1.9" fill="none" stroke="#15a38a" stroke-width="0.7"/>
<rect x="62.3" y="659.3" width="3.3" height="4.6" fill="#bfdb50"/>
<path d="M85.5,659.3 h1.2 q1.9,0.2 1.9,2.3 t-1.9,2.3 h-1.2 Z" fill="#bfdb50"/>
<circle cx="76.5" cy="661.6" r="8.6" fill="#17599b"/>
<circle cx="70.7" cy="661.7" r="1.45" fill="#fff"/>
<circle cx="82.5" cy="661.7" r="1.45" fill="#fff"/>
<path d="M73.7,661.2 L76.3,663.6 L80.7,658.4" fill="none" stroke="#fff" stroke-width="1.7" stroke-linecap="round" stroke-linejoin="round"/>
<rect x="149.7" y="51.8" width="3.3" height="4.6" fill="#bfdb50"/>
<path d="M172.9,51.8 h1.2 q1.9,0.2 1.9,2.3 t-1.9,2.3 h-1.2 Z" fill="#bfdb50"/>
<polygon points="155.1,45.1 172.1,45.1 172.8,54.1 172.1,63.1 155.1,63.1 158.7,54.1" fill="#da6344"/>
<text x="164.8" y="61" font-family='"Liberation Serif", serif' font-size="20" fill="#fff" stroke="#fff" stroke-width="0.3" text-anchor="middle" textLength="12.6" lengthAdjust="spacingAndGlyphs">Σ</text>
<rect x="195.2" y="51.7" width="3.3" height="4.6" fill="#bfdb50"/>
<path d="M219.1,46.1 h3.2 l1.2,2.3 l-1.2,2.3 h-3.2 Z" fill="#bfdb50"/>
<path d="M219.1,57.3 h3.2 l1.2,2.3 l-1.2,2.3 h-3.2 Z" fill="#bfdb50"/>
<circle cx="209.4" cy="54" r="8.6" fill="#17599b"/>
<path d="M209.6,48.4 L204.6,57.7 L214.6,57.7 Z" fill="none" stroke="#fff" stroke-width="1.45" stroke-linejoin="miter"/>
<path d="M201.6,53.8 H207.2 M210.9,52.8 L217.6,50.2 M210.9,54.6 L217.8,56.8" stroke="#fff" stroke-width="1.1" fill="none"/>
<path d="M201.5,52.4 l2.2,1.4 l-2.2,1.4 Z" fill="#fff"/>
<rect x="236.9" y="46.1" width="3.3" height="4.6" fill="#bfdb50"/>
<path d="M260.1,46.1 h1.2 q1.9,0.2 1.9,2.3 t-1.9,2.3 h-1.2 Z" fill="#bfdb50"/>
<polygon points="242.3,39.4 259.3,39.4 260,48.4 259.3,57.4 242.3,57.4 245.9,48.4" fill="#da6344"/>
<text x="252" y="55.3" font-family='"Liberation Serif", serif' font-size="20" fill="#fff" stroke="#fff" stroke-width="0.3" text-anchor="middle" textLength="12.6" lengthAdjust="spacingAndGlyphs">Σ</text>
<rect x="295" y="46" width="3.4" height="4.6" fill="#bfdb50"/>
<path d="M299.8,40 h5.6 l1.2,1.2 h7.6 q1.2,0 1.2,1.2 v13 q0,1.2 -1.2,1.2 h-14.4 q-1.2,0 -1.2,-1.2 v-14.2 q0,-1.2 1.2,-1.2 Z" fill="#15a38a"/>
<polygon points="305.7,44 303.5,44 300.8,53.5 301,54.4 304.8,54.4 305,49.5 305.7,48.6" fill="#fff"/>
<rect x="303.5" y="42.6" width="2.2" height="1" fill="#fff"/>
<polygon points="308.3,44 310.5,44 313.2,53.5 313,54.4 309.2,54.4 309,49.5 308.3,48.6" fill="#fff"/>
<rect x="308.3" y="42.6" width="2.2" height="1" fill="#fff"/>
<rect x="305.6" y="45.3" width="2.8" height="3" fill="#fff" opacity="0.85"/>
<rect x="300.5" y="52" width="13" height="0.7" fill="#15a38a" opacity="0.75"/>
<rect x="149.6" y="132.7" width="3.3" height="4.6" fill="#bfdb50"/>
<path d="M172.8,132.7 h1.2 q1.9,0.2 1.9,2.3 t-1.9,2.3 h-1.2 Z" fill="#bfdb50"/>
<polygon points="163.8,126.9 171.85,130.95 171.85,139.05 163.8,143.1 155.75,139.05 155.75,130.95" fill="#8fa648" stroke="#8fa648" stroke-width="1" stroke-linejoin="round"/>
<text x="163.8" y="137.7" font-family='"Liberation Sans", "Noto Sans CJK JP", sans-serif' font-weight="bold" font-size="8.6" fill="#fff" text-anchor="middle" textLength="11.8" lengthAdjust="spacingAndGlyphs">(.*)</text>
<rect x="195.1" y="132.7" width="3.3" height="4.6" fill="#bfdb50"/>
<path d="M218.3,132.7 h1.2 q1.9,0.2 1.9,2.3 t-1.9,2.3 h-1.2 Z" fill="#bfdb50"/>
<circle cx="209.3" cy="135" r="8.6" fill="#17599b"/>
<circle cx="203.5" cy="135.1" r="1.45" fill="#fff"/>
<circle cx="215.3" cy="135.1" r="1.45" fill="#fff"/>
<path d="M206.5,134.6 L209.1,137 L213.5,131.8" fill="none" stroke="#fff" stroke-width="1.7" stroke-linecap="round" stroke-linejoin="round"/>
<rect x="240.9" y="132.65" width="3.3" height="4.6" fill="#bfdb50"/>
<path d="M264.8,127.05 h3.2 l1.2,2.3 l-1.2,2.3 h-3.2 Z" fill="#bfdb50"/>
<path d="M264.8,138.25 h3.2 l1.2,2.3 l-1.2,2.3 h-3.2 Z" fill="#bfdb50"/>
<circle cx="255.1" cy="134.95" r="8.6" fill="#17599b"/>
<line x1="255.1" y1="127.65" x2="255.1" y2="142.25" stroke="#fff" stroke-width="1.3" stroke-dasharray="1.5 0.6"/>
<line x1="261.42" y1="131.3" x2="248.78" y2="138.6" stroke="#fff" stroke-width="0.95"/>
<line x1="261.42" y1="138.6" x2="248.78" y2="131.3" stroke="#fff" stroke-width="0.95"/>
<circle cx="255.1" cy="134.95" r="2.3" fill="#17599b" fill-opacity="0.55" stroke="#fff" stroke-width="0.7"/>
<rect x="288.5" y="126.8" width="3.3" height="4.6" fill="#bfdb50"/>
<path d="M311.7,126.8 h1.2 q1.9,0.2 1.9,2.3 t-1.9,2.3 h-1.2 Z" fill="#bfdb50"/>
<polygon points="293.9,120.1 310.9,120.1 311.6,129.1 310.9,138.1 293.9,138.1 297.5,129.1" fill="#da6344"/>
<text x="303.6" y="136" font-family='"Liberation Serif", serif' font-size="20" fill="#fff" stroke="#fff" stroke-width="0.3" text-anchor="middle" textLength="12.6" lengthAdjust="spacingAndGlyphs">Σ</text>
<rect x="340.4" y="126.8" width="3.3" height="4.6" fill="#bfdb50"/>
<path d="M363.6,126.8 h1.2 q1.9,0.2 1.9,2.3 t-1.9,2.3 h-1.2 Z" fill="#bfdb50"/>
<circle cx="354.6" cy="129.1" r="8.6" fill="#17599b"/>
<path d="M353.3,122.6 v3.2 l-4.4,6.6 q-1,2.2 1.4,2.3 h8.6 q2.4,-0.1 1.4,-2.3 l-4.4,-6.6 v-3.2 Z" fill="#fff"/>
<rect x="352.3" y="121.9" width="4.6" height="1.1" rx="0.4" fill="#fff"/>
<path d="M350.3,131.3 q2.2,2.2 4.4,0.6 t4.2,-0.6" fill="none" stroke="#17599b" stroke-width="0.85"/>
<circle cx="355.1" cy="128.9" r="0.75" fill="#17599b"/>
<circle cx="353.7" cy="130.1" r="0.5" fill="#17599b"/>
<circle cx="356.2" cy="121.2" r="0.6" fill="#fff"/>
<rect x="386.1" y="126.8" width="3.3" height="4.6" fill="#bfdb50"/>
<path d="M409.3,126.8 h1.2 q1.9,0.2 1.9,2.3 t-1.9,2.3 h-1.2 Z" fill="#bfdb50"/>
<circle cx="400.3" cy="129.1" r="8.6" fill="#17599b"/>
<circle cx="394.5" cy="129.2" r="1.45" fill="#fff"/>
<circle cx="406.3" cy="129.2" r="1.45" fill="#fff"/>
<path d="M397.5,128.7 L400.1,131.1 L404.5,125.9" fill="none" stroke="#fff" stroke-width="1.7" stroke-linecap="round" stroke-linejoin="round"/>
<rect x="434" y="126.9" width="3.4" height="4.6" fill="#bfdb50"/>
<path d="M438.8,120.9 h5.6 l1.2,1.2 h7.6 q1.2,0 1.2,1.2 v13 q0,1.2 -1.2,1.2 h-14.4 q-1.2,0 -1.2,-1.2 v-14.2 q0,-1.2 1.2,-1.2 Z" fill="#15a38a"/>
<polygon points="444.7,124.9 442.5,124.9 439.8,134.4 440,135.3 443.8,135.3 444,130.4 444.7,129.5" fill="#fff"/>
<rect x="442.5" y="123.5" width="2.2" height="1" fill="#fff"/>
<polygon points="447.3,124.9 449.5,124.9 452.2,134.4 452,135.3 448.2,135.3 448,130.4 447.3,129.5" fill="#fff"/>
<rect x="447.3" y="123.5" width="2.2" height="1" fill="#fff"/>
<rect x="444.6" y="126.2" width="2.8" height="3" fill="#fff" opacity="0.85"/>
<rect x="439.5" y="132.9" width="13" height="0.7" fill="#15a38a" opacity="0.75"/>
<rect x="149.7" y="219.3" width="3.3" height="4.6" fill="#bfdb50"/>
<path d="M172.9,219.3 h1.2 q1.9,0.2 1.9,2.3 t-1.9,2.3 h-1.2 Z" fill="#bfdb50"/>
<polygon points="155.1,212.6 172.1,212.6 172.8,221.6 172.1,230.6 155.1,230.6 158.7,221.6" fill="#da6344"/>
<text x="164.8" y="228.5" font-family='"Liberation Serif", serif' font-size="20" fill="#fff" stroke="#fff" stroke-width="0.3" text-anchor="middle" textLength="12.6" lengthAdjust="spacingAndGlyphs">Σ</text>
<rect x="195.3" y="219.3" width="3.3" height="4.6" fill="#bfdb50"/>
<path d="M218.5,219.3 h1.2 q1.9,0.2 1.9,2.3 t-1.9,2.3 h-1.2 Z" fill="#bfdb50"/>
<circle cx="209.5" cy="221.6" r="8.6" fill="#17599b"/>
<path d="M208.2,215.1 v3.2 l-4.4,6.6 q-1,2.2 1.4,2.3 h8.6 q2.4,-0.1 1.4,-2.3 l-4.4,-6.6 v-3.2 Z" fill="#fff"/>
<rect x="207.2" y="214.4" width="4.6" height="1.1" rx="0.4" fill="#fff"/>
<path d="M205.2,223.8 q2.2,2.2 4.4,0.6 t4.2,-0.6" fill="none" stroke="#17599b" stroke-width="0.85"/>
<circle cx="210" cy="221.4" r="0.75" fill="#17599b"/>
<circle cx="208.6" cy="222.6" r="0.5" fill="#17599b"/>
<circle cx="211.1" cy="213.7" r="0.6" fill="#fff"/>
<rect x="241.2" y="219.3" width="3.3" height="4.6" fill="#bfdb50"/>
<path d="M264.4,219.3 h1.2 q1.9,0.2 1.9,2.3 t-1.9,2.3 h-1.2 Z" fill="#bfdb50"/>
<circle cx="255.4" cy="221.6" r="8.6" fill="#17599b"/>
<circle cx="249.6" cy="221.7" r="1.45" fill="#fff"/>
<circle cx="261.4" cy="221.7" r="1.45" fill="#fff"/>
<path d="M252.6,221.2 L255.2,223.6 L259.6,218.4" fill="none" stroke="#fff" stroke-width="1.7" stroke-linecap="round" stroke-linejoin="round"/>
<rect x="301.4" y="219.2" width="3.4" height="4.6" fill="#bfdb50"/>
<path d="M306.2,213.2 h5.6 l1.2,1.2 h7.6 q1.2,0 1.2,1.2 v13 q0,1.2 -1.2,1.2 h-14.4 q-1.2,0 -1.2,-1.2 v-14.2 q0,-1.2 1.2,-1.2 Z" fill="#15a38a"/>
<polygon points="312.1,217.2 309.9,217.2 307.2,226.7 307.4,227.6 311.2,227.6 311.4,222.7 312.1,221.8" fill="#fff"/>
<rect x="309.9" y="215.8" width="2.2" height="1" fill="#fff"/>
<polygon points="314.7,217.2 316.9,217.2 319.6,226.7 319.4,227.6 315.6,227.6 315.4,222.7 314.7,221.8" fill="#fff"/>
<rect x="314.7" y="215.8" width="2.2" height="1" fill="#fff"/>
<rect x="312" y="218.5" width="2.8" height="3" fill="#fff" opacity="0.85"/>
<rect x="306.9" y="225.2" width="13" height="0.7" fill="#15a38a" opacity="0.75"/>
<rect x="149.8" y="312.1" width="3.3" height="4.6" fill="#bfdb50"/>
<path d="M173.7,306.5 h3.2 l1.2,2.3 l-1.2,2.3 h-3.2 Z" fill="#bfdb50"/>
<path d="M173.7,317.7 h3.2 l1.2,2.3 l-1.2,2.3 h-3.2 Z" fill="#bfdb50"/>
<circle cx="164" cy="314.4" r="8.6" fill="#17599b"/>
<path d="M164.2,308.8 L159.2,318.1 L169.2,318.1 Z" fill="none" stroke="#fff" stroke-width="1.45" stroke-linejoin="miter"/>
<path d="M156.2,314.2 H161.8 M165.5,313.2 L172.2,310.6 M165.5,315 L172.4,317.2" stroke="#fff" stroke-width="1.1" fill="none"/>
<path d="M156.1,312.8 l2.2,1.4 l-2.2,1.4 Z" fill="#fff"/>
<rect x="189" y="312.1" width="3.3" height="4.6" fill="#bfdb50"/>
<path d="M212.2,312.1 h1.2 q1.9,0.2 1.9,2.3 t-1.9,2.3 h-1.2 Z" fill="#bfdb50"/>
<circle cx="203.2" cy="314.4" r="8.6" fill="#17599b"/>
<circle cx="196.8" cy="314.4" r="1.15" fill="#fff"/>
<circle cx="201.1" cy="314.4" r="2.1" fill="#fff"/>
<circle cx="207.2" cy="314.4" r="3.0" fill="#fff"/>
<rect x="236.7" y="312.1" width="3.3" height="4.6" fill="#bfdb50"/>
<path d="M259.9,312.1 h1.2 q1.9,0.2 1.9,2.3 t-1.9,2.3 h-1.2 Z" fill="#bfdb50"/>
<circle cx="250.9" cy="314.4" r="8.6" fill="#17599b"/>
<path d="M244.8,309.8 v8.3 a1.5,1.5 0 0 0 3,0 v-8.3 Z" fill="#fff"/>
<rect x="244.3" y="308.8" width="4" height="1.1" fill="#fff"/>
<rect x="245.5" y="311" width="1.6" height="3" fill="#17599b"/>
<path d="M249.4,309.8 v8.3 a1.5,1.5 0 0 0 3,0 v-8.3 Z" fill="#fff"/>
<rect x="248.9" y="308.8" width="4" height="1.1" fill="#fff"/>
<rect x="250.1" y="312.2" width="1.6" height="3" fill="#17599b"/>
<path d="M254,309.8 v8.3 a1.5,1.5 0 0 0 3,0 v-8.3 Z" fill="#fff"/>
<rect x="253.5" y="308.8" width="4" height="1.1" fill="#fff"/>
<rect x="254.7" y="311" width="1.6" height="3" fill="#17599b"/>
<rect x="275.8" y="312.1" width="3.3" height="4.6" fill="#bfdb50"/>
<path d="M299,312.1 h1.2 q1.9,0.2 1.9,2.3 t-1.9,2.3 h-1.2 Z" fill="#bfdb50"/>
<circle cx="290" cy="314.4" r="8.6" fill="#17599b"/>
<circle cx="284.2" cy="314.5" r="1.45" fill="#fff"/>
<circle cx="296" cy="314.5" r="1.45" fill="#fff"/>
<path d="M287.2,314 L289.8,316.4 L294.2,311.2" fill="none" stroke="#fff" stroke-width="1.7" stroke-linecap="round" stroke-linejoin="round"/>
<rect x="319.8" y="335.6" width="3.4" height="4.6" fill="#bfdb50"/>
<path d="M324.6,329.6 h5.6 l1.2,1.2 h7.6 q1.2,0 1.2,1.2 v13 q0,1.2 -1.2,1.2 h-14.4 q-1.2,0 -1.2,-1.2 v-14.2 q0,-1.2 1.2,-1.2 Z" fill="#15a38a"/>
<polygon points="330.5,333.6 328.3,333.6 325.6,343.1 325.8,344 329.6,344 329.8,339.1 330.5,338.2" fill="#fff"/>
<rect x="328.3" y="332.2" width="2.2" height="1" fill="#fff"/>
<polygon points="333.1,333.6 335.3,333.6 338,343.1 337.8,344 334,344 333.8,339.1 333.1,338.2" fill="#fff"/>
<rect x="333.1" y="332.2" width="2.2" height="1" fill="#fff"/>
<rect x="330.4" y="334.9" width="2.8" height="3" fill="#fff" opacity="0.85"/>
<rect x="325.3" y="341.6" width="13" height="0.7" fill="#15a38a" opacity="0.75"/>
<rect x="149.8" y="404.7" width="3.3" height="4.6" fill="#bfdb50"/>
<path d="M173,404.7 h1.2 q1.9,0.2 1.9,2.3 t-1.9,2.3 h-1.2 Z" fill="#bfdb50"/>
<circle cx="164" cy="407" r="8.6" fill="#17599b"/>
<circle cx="157.6" cy="407" r="1.15" fill="#fff"/>
<circle cx="161.9" cy="407" r="2.1" fill="#fff"/>
<circle cx="168" cy="407" r="3.0" fill="#fff"/>
<rect x="195.3" y="404.7" width="3.3" height="4.6" fill="#bfdb50"/>
<path d="M218.5,404.7 h1.2 q1.9,0.2 1.9,2.3 t-1.9,2.3 h-1.2 Z" fill="#bfdb50"/>
<circle cx="209.5" cy="407" r="8.6" fill="#17599b"/>
<path d="M203.4,402.4 v8.3 a1.5,1.5 0 0 0 3,0 v-8.3 Z" fill="#fff"/>
<rect x="202.9" y="401.4" width="4" height="1.1" fill="#fff"/>
<rect x="204.1" y="403.6" width="1.6" height="3" fill="#17599b"/>
<path d="M208,402.4 v8.3 a1.5,1.5 0 0 0 3,0 v-8.3 Z" fill="#fff"/>
<rect x="207.5" y="401.4" width="4" height="1.1" fill="#fff"/>
<rect x="208.7" y="404.8" width="1.6" height="3" fill="#17599b"/>
<path d="M212.6,402.4 v8.3 a1.5,1.5 0 0 0 3,0 v-8.3 Z" fill="#fff"/>
<rect x="212.1" y="401.4" width="4" height="1.1" fill="#fff"/>
<rect x="213.3" y="403.6" width="1.6" height="3" fill="#17599b"/>
<rect x="247.5" y="404.4" width="4.4" height="4.8" fill="#bfdb50"/>
<rect x="247.5" y="416" width="4.4" height="4.8" fill="#bfdb50"/>
<path d="M270.5,410.3 h1.2 q1.9,0.2 1.9,2.3 t-1.9,2.3 h-1.2 Z" fill="#bfdb50"/>
<rect x="252.8" y="403.9" width="17.4" height="17.4" rx="1.6" fill="#66408f"/>
<circle cx="259.6" cy="410.1" r="4.4" fill="none" stroke="#fff" stroke-width="1.1" stroke-dasharray="1.15 1.154"/>
<circle cx="259.6" cy="410.1" r="3.55" fill="none" stroke="#fff" stroke-width="1.1"/>
<circle cx="266" cy="416.6" r="3.6" fill="#66408f"/>
<circle cx="266" cy="416.6" r="3.1" fill="none" stroke="#fff" stroke-width="0.9" stroke-dasharray="0.97 0.978"/>
<circle cx="266" cy="416.6" r="2.35" fill="none" stroke="#fff" stroke-width="0.9"/>
<circle cx="266" cy="416.6" r="0.95" fill="#fff"/>
<rect x="288.5" y="410.5" width="3.3" height="4.6" fill="#bfdb50"/>
<path d="M311.7,410.5 h1.2 q1.9,0.2 1.9,2.3 t-1.9,2.3 h-1.2 Z" fill="#bfdb50"/>
<circle cx="302.7" cy="412.8" r="8.6" fill="#17599b"/>
<path d="M301.4,406.3 v3.2 l-4.4,6.6 q-1,2.2 1.4,2.3 h8.6 q2.4,-0.1 1.4,-2.3 l-4.4,-6.6 v-3.2 Z" fill="#fff"/>
<rect x="300.4" y="405.6" width="4.6" height="1.1" rx="0.4" fill="#fff"/>
<path d="M298.4,415 q2.2,2.2 4.4,0.6 t4.2,-0.6" fill="none" stroke="#17599b" stroke-width="0.85"/>
<circle cx="303.2" cy="412.6" r="0.75" fill="#17599b"/>
<circle cx="301.8" cy="413.8" r="0.5" fill="#17599b"/>
<circle cx="304.3" cy="404.9" r="0.6" fill="#fff"/>
<rect x="334.2" y="410.4" width="3.3" height="4.6" fill="#bfdb50"/>
<path d="M357.4,410.4 h1.2 q1.9,0.2 1.9,2.3 t-1.9,2.3 h-1.2 Z" fill="#bfdb50"/>
<circle cx="348.4" cy="412.7" r="8.6" fill="#17599b"/>
<circle cx="342.6" cy="412.8" r="1.45" fill="#fff"/>
<circle cx="354.4" cy="412.8" r="1.45" fill="#fff"/>
<path d="M345.6,412.3 L348.2,414.7 L352.6,409.5" fill="none" stroke="#fff" stroke-width="1.7" stroke-linecap="round" stroke-linejoin="round"/>
<rect x="382.4" y="410.4" width="3.4" height="4.6" fill="#bfdb50"/>
<path d="M387.2,404.4 h5.6 l1.2,1.2 h7.6 q1.2,0 1.2,1.2 v13 q0,1.2 -1.2,1.2 h-14.4 q-1.2,0 -1.2,-1.2 v-14.2 q0,-1.2 1.2,-1.2 Z" fill="#15a38a"/>
<polygon points="393.1,408.4 390.9,408.4 388.2,417.9 388.4,418.8 392.2,418.8 392.4,413.9 393.1,413" fill="#fff"/>
<rect x="390.9" y="407" width="2.2" height="1" fill="#fff"/>
<polygon points="395.7,408.4 397.9,408.4 400.6,417.9 400.4,418.8 396.6,418.8 396.4,413.9 395.7,413" fill="#fff"/>
<rect x="395.7" y="407" width="2.2" height="1" fill="#fff"/>
<rect x="393" y="409.7" width="2.8" height="3" fill="#fff" opacity="0.85"/>
<rect x="387.9" y="416.4" width="13" height="0.7" fill="#15a38a" opacity="0.75"/>
<rect x="195.4" y="439.5" width="3.3" height="4.6" fill="#bfdb50"/>
<path d="M218.6,439.5 h1.2 q1.9,0.2 1.9,2.3 t-1.9,2.3 h-1.2 Z" fill="#bfdb50"/>
<polygon points="200.8,432.8 217.8,432.8 218.5,441.8 217.8,450.8 200.8,450.8 204.4,441.8" fill="#da6344"/>
<text x="210.5" y="448.7" font-family='"Liberation Serif", serif' font-size="20" fill="#fff" stroke="#fff" stroke-width="0.3" text-anchor="middle" textLength="12.6" lengthAdjust="spacingAndGlyphs">Σ</text>
<rect x="149.8" y="508.9" width="3.3" height="4.6" fill="#bfdb50"/>
<path d="M173.7,503.3 h3.2 l1.2,2.3 l-1.2,2.3 h-3.2 Z" fill="#bfdb50"/>
<path d="M173.7,514.5 h3.2 l1.2,2.3 l-1.2,2.3 h-3.2 Z" fill="#bfdb50"/>
<circle cx="164" cy="511.2" r="8.6" fill="#17599b"/>
<path d="M164.2,505.6 L159.2,514.9 L169.2,514.9 Z" fill="none" stroke="#fff" stroke-width="1.45" stroke-linejoin="miter"/>
<path d="M156.2,511 H161.8 M165.5,510 L172.2,507.4 M165.5,511.8 L172.4,514" stroke="#fff" stroke-width="1.1" fill="none"/>
<path d="M156.1,509.6 l2.2,1.4 l-2.2,1.4 Z" fill="#fff"/>
<rect x="195.4" y="503.1" width="3.3" height="4.6" fill="#bfdb50"/>
<path d="M218.6,503.1 h1.2 q1.9,0.2 1.9,2.3 t-1.9,2.3 h-1.2 Z" fill="#bfdb50"/>
<polygon points="200.8,496.4 217.8,496.4 218.5,505.4 217.8,514.4 200.8,514.4 204.4,505.4" fill="#da6344"/>
<text x="210.5" y="512.3" font-family='"Liberation Serif", serif' font-size="20" fill="#fff" stroke="#fff" stroke-width="0.3" text-anchor="middle" textLength="12.6" lengthAdjust="spacingAndGlyphs">Σ</text>
<rect x="262" y="503.2" width="3.4" height="4.6" fill="#bfdb50"/>
<path d="M266.8,497.2 h5.6 l1.2,1.2 h7.6 q1.2,0 1.2,1.2 v13 q0,1.2 -1.2,1.2 h-14.4 q-1.2,0 -1.2,-1.2 v-14.2 q0,-1.2 1.2,-1.2 Z" fill="#15a38a"/>
<polygon points="272.7,501.2 270.5,501.2 267.8,510.7 268,511.6 271.8,511.6 272,506.7 272.7,505.8" fill="#fff"/>
<rect x="270.5" y="499.8" width="2.2" height="1" fill="#fff"/>
<polygon points="275.3,501.2 277.5,501.2 280.2,510.7 280,511.6 276.2,511.6 276,506.7 275.3,505.8" fill="#fff"/>
<rect x="275.3" y="499.8" width="2.2" height="1" fill="#fff"/>
<rect x="272.6" y="502.5" width="2.8" height="3" fill="#fff" opacity="0.85"/>
<rect x="267.5" y="509.2" width="13" height="0.7" fill="#15a38a" opacity="0.75"/>
<rect x="149.5" y="595.6" width="3" height="4.2" fill="#cfcfcf" stroke="#5a5a5a" stroke-width="0.8"/>
<path d="M172.7,595.4 h1.2 q1.9,0.2 1.9,2.3 t-1.9,2.3 h-1.2 Z" fill="#bfdb50"/>
<rect x="155" y="589" width="17.4" height="17.4" rx="1.6" fill="#66408f"/>
<g transform="translate(164,598) rotate(45)">
<path d="M-9.3,0 q3.1,-3.7 6.2,0 t6.2,0 t6.2,0" fill="none" stroke="#fff" stroke-width="1.45" stroke-linecap="round"/>
<path d="M-9.3,0 q3.1,3.7 6.2,0 t6.2,0 t6.2,0" fill="none" stroke="#fff" stroke-width="1.45" stroke-linecap="round"/>
</g>
<rect x="201.7" y="595.3" width="4.4" height="4.8" fill="#bfdb50"/>
<rect x="201.7" y="606.9" width="4.4" height="4.8" fill="#bfdb50"/>
<path d="M224.7,601.2 h1.2 q1.9,0.2 1.9,2.3 t-1.9,2.3 h-1.2 Z" fill="#bfdb50"/>
<rect x="207" y="594.8" width="17.4" height="17.4" rx="1.6" fill="#66408f"/>
<circle cx="212.7" cy="600.7" r="3.3" fill="none" stroke="#fff" stroke-width="1.4"/>
<path d="M215.3,603.7 L221.7,610" stroke="#fff" stroke-width="2.2" stroke-linecap="round"/>
<path d="M222.1,597 L213.1,609.8" stroke="#fff" stroke-width="1.8" stroke-linecap="round"/>
<rect x="253.2" y="601.1" width="3.3" height="4.6" fill="#bfdb50"/>
<path d="M276.4,601.1 h1.2 q1.9,0.2 1.9,2.3 t-1.9,2.3 h-1.2 Z" fill="#bfdb50"/>
<circle cx="267.4" cy="603.4" r="8.6" fill="#17599b"/>
<circle cx="261.6" cy="603.5" r="1.45" fill="#fff"/>
<circle cx="273.4" cy="603.5" r="1.45" fill="#fff"/>
<path d="M264.6,603 L267.2,605.4 L271.6,600.2" fill="none" stroke="#fff" stroke-width="1.7" stroke-linecap="round" stroke-linejoin="round"/>
<rect x="301.4" y="601.6" width="3.4" height="4.6" fill="#bfdb50"/>
<path d="M306.2,595.6 h5.6 l1.2,1.2 h7.6 q1.2,0 1.2,1.2 v13 q0,1.2 -1.2,1.2 h-14.4 q-1.2,0 -1.2,-1.2 v-14.2 q0,-1.2 1.2,-1.2 Z" fill="#15a38a"/>
<polygon points="312.1,599.6 309.9,599.6 307.2,609.1 307.4,610 311.2,610 311.4,605.1 312.1,604.2" fill="#fff"/>
<rect x="309.9" y="598.2" width="2.2" height="1" fill="#fff"/>
<polygon points="314.7,599.6 316.9,599.6 319.6,609.1 319.4,610 315.6,610 315.4,605.1 314.7,604.2" fill="#fff"/>
<rect x="314.7" y="598.2" width="2.2" height="1" fill="#fff"/>
<rect x="312" y="600.9" width="2.8" height="3" fill="#fff" opacity="0.85"/>
<rect x="306.9" y="607.6" width="13" height="0.7" fill="#15a38a" opacity="0.75"/>
<rect x="241.4" y="682.6" width="3.3" height="4.6" fill="#bfdb50"/>
<path d="M264.6,682.6 h1.2 q1.9,0.2 1.9,2.3 t-1.9,2.3 h-1.2 Z" fill="#bfdb50"/>
<polygon points="246.8,675.9 263.8,675.9 264.5,684.9 263.8,693.9 246.8,693.9 250.4,684.9" fill="#da6344"/>
<text x="256.5" y="691.8" font-family='"Liberation Serif", serif' font-size="20" fill="#fff" stroke="#fff" stroke-width="0.3" text-anchor="middle" textLength="12.6" lengthAdjust="spacingAndGlyphs">Σ</text>
<rect x="241.4" y="711.4" width="3.3" height="4.6" fill="#bfdb50"/>
<path d="M264.6,711.4 h1.2 q1.9,0.2 1.9,2.3 t-1.9,2.3 h-1.2 Z" fill="#bfdb50"/>
<polygon points="246.8,704.7 263.8,704.7 264.5,713.7 263.8,722.7 246.8,722.7 250.4,713.7" fill="#da6344"/>
<text x="256.5" y="720.6" font-family='"Liberation Serif", serif' font-size="20" fill="#fff" stroke="#fff" stroke-width="0.3" text-anchor="middle" textLength="12.6" lengthAdjust="spacingAndGlyphs">Σ</text>
<path d="M172.6,711.5 h1.2 q1.9,0.2 1.9,2.3 t-1.9,2.3 h-1.2 Z" fill="#bfdb50"/>
<path d="M156.3,704.8 h5.6 l1.2,1.3 h7.6 q1.2,0 1.2,1.2 v13 q0,1.2 -1.2,1.2 h-14.4 q-1.2,0 -1.2,-1.2 v-14.3 q0,-1.2 1.2,-1.2 Z" fill="#15a38a"/>
<path d="M157.2,707.8 l6.4,2.6 l6.4,-2.6 v10.6 l-6.4,2.7 l-6.4,-2.7 Z" fill="#fff"/>
<path d="M163.6,710.5 v10.4" stroke="#15a38a" stroke-width="0.8"/>
<path d="M159.2,716.7 l4.4,1.9 l4.4,-1.9" fill="none" stroke="#15a38a" stroke-width="0.6"/>
<path d="M156.7,719 l6.9,2.9 l6.9,-2.9" fill="none" stroke="#fff" stroke-width="0.5" opacity="0.8"/>
<path d="M166.3,709.9 v7.6 M164.2,712.9 l4.6,-1.9 M164.2,715.2 l4.6,-1.9 M164.2,717.5 l4.6,-1.9" fill="none" stroke="#15a38a" stroke-width="0.7"/>
<rect x="288.8" y="682.7" width="4.4" height="4.8" fill="#bfdb50"/>
<rect x="288.8" y="694.3" width="4.4" height="4.8" fill="#bfdb50"/>
<path d="M311.8,688.6 h1.2 q1.9,0.2 1.9,2.3 t-1.9,2.3 h-1.2 Z" fill="#bfdb50"/>
<rect x="294.1" y="682.2" width="17.4" height="17.4" rx="1.6" fill="#66408f"/>
<circle cx="300.9" cy="688.4" r="4.4" fill="none" stroke="#fff" stroke-width="1.1" stroke-dasharray="1.15 1.154"/>
<circle cx="300.9" cy="688.4" r="3.55" fill="none" stroke="#fff" stroke-width="1.1"/>
<circle cx="307.3" cy="694.9" r="3.6" fill="#66408f"/>
<circle cx="307.3" cy="694.9" r="3.1" fill="none" stroke="#fff" stroke-width="0.9" stroke-dasharray="0.97 0.978"/>
<circle cx="307.3" cy="694.9" r="2.35" fill="none" stroke="#fff" stroke-width="0.9"/>
<circle cx="307.3" cy="694.9" r="0.95" fill="#fff"/>
<rect x="334.2" y="688.6" width="3.3" height="4.6" fill="#bfdb50"/>
<path d="M357.4,688.6 h1.2 q1.9,0.2 1.9,2.3 t-1.9,2.3 h-1.2 Z" fill="#bfdb50"/>
<circle cx="348.4" cy="690.9" r="8.6" fill="#17599b"/>
<path d="M347.1,684.4 v3.2 l-4.4,6.6 q-1,2.2 1.4,2.3 h8.6 q2.4,-0.1 1.4,-2.3 l-4.4,-6.6 v-3.2 Z" fill="#fff"/>
<rect x="346.1" y="683.7" width="4.6" height="1.1" rx="0.4" fill="#fff"/>
<path d="M344.1,693.1 q2.2,2.2 4.4,0.6 t4.2,-0.6" fill="none" stroke="#17599b" stroke-width="0.85"/>
<circle cx="348.9" cy="690.7" r="0.75" fill="#17599b"/>
<circle cx="347.5" cy="691.9" r="0.5" fill="#17599b"/>
<circle cx="350" cy="683" r="0.6" fill="#fff"/>
<rect x="382.4" y="688.7" width="3.4" height="4.6" fill="#bfdb50"/>
<path d="M387.2,682.7 h5.6 l1.2,1.2 h7.6 q1.2,0 1.2,1.2 v13 q0,1.2 -1.2,1.2 h-14.4 q-1.2,0 -1.2,-1.2 v-14.2 q0,-1.2 1.2,-1.2 Z" fill="#15a38a"/>
<polygon points="393.1,686.7 390.9,686.7 388.2,696.2 388.4,697.1 392.2,697.1 392.4,692.2 393.1,691.3" fill="#fff"/>
<rect x="390.9" y="685.3" width="2.2" height="1" fill="#fff"/>
<polygon points="395.7,686.7 397.9,686.7 400.6,696.2 400.4,697.1 396.6,697.1 396.4,692.2 395.7,691.3" fill="#fff"/>
<rect x="395.7" y="685.3" width="2.2" height="1" fill="#fff"/>
<rect x="393" y="688" width="2.8" height="3" fill="#fff" opacity="0.85"/>
<rect x="387.9" y="694.7" width="13" height="0.7" fill="#15a38a" opacity="0.75"/>
<clipPath id="c2019"><rect x="195.2" y="67" width="35.1" height="9.5"/></clipPath>
<rect x="195.2" y="67" width="35.1" height="9.5" fill="#fff" stroke="#767676" stroke-width="0.85"/>
<g clip-path="url(#c2019)">
<text x="196.2" y="73.6" font-size="5.3" fill="#474747">[Count] = 1</text>
</g>
<clipPath id="c3544"><rect x="340.2" y="142.3" width="52.2" height="24"/></clipPath>
<rect x="340.2" y="142.3" width="52.2" height="24" fill="#fff" stroke="#767676" stroke-width="0.85"/>
<g clip-path="url(#c3544)">
<text x="341.2" y="148.9" font-size="5.3" fill="#474747">Answer2 = FLOOR</text>
<text x="341.2" y="155.9" font-size="5.3" fill="#474747">([Sum_version]/</text>
<text x="341.2" y="162.9" font-size="5.3" fill="#474747">[Count])</text>
</g>
<clipPath id="c2186"><rect x="195.2" y="234.7" width="47.1" height="25"/></clipPath>
<rect x="195.2" y="234.7" width="47.1" height="25" fill="#fff" stroke="#767676" stroke-width="0.85"/>
<g clip-path="url(#c2186)">
<text x="196.2" y="241.3" font-size="5.3" fill="#474747">Answer3 =</text>
<text x="196.2" y="248.63" font-size="5.3" fill="#474747">Length</text>
<text x="196.2" y="255.97" font-size="5.3" fill="#474747">([Mode_city_jp])</text>
</g>
<clipPath id="c1823"><rect x="149.6" y="327.4" width="43.1" height="16.8"/></clipPath>
<rect x="149.6" y="327.4" width="43.1" height="16.8" fill="#fff" stroke="#767676" stroke-width="0.85"/>
<g clip-path="url(#c1823)">
<text x="150.6" y="334" font-size="5.3" fill="#474747">[percentage] =</text>
<text x="150.6" y="340.9" font-size="5.3" fill="#474747">95.4</text>
</g>
<clipPath id="c2254"><rect x="192.7" y="327.4" width="29.6" height="16.8"/></clipPath>
<rect x="192.7" y="327.4" width="29.6" height="16.8" fill="#fff" stroke="#767676" stroke-width="0.85"/>
<g clip-path="url(#c2254)">
<text x="189.3" y="334" font-size="5.3" fill="#474747">RecordID -</text>
<text x="189.3" y="340.9" font-size="5.3" fill="#474747">Ascending</text>
</g>
<clipPath id="c2685"><rect x="235.8" y="327.4" width="20.8" height="10.1"/></clipPath>
<rect x="235.8" y="327.4" width="20.8" height="10.1" fill="#fff" stroke="#767676" stroke-width="0.85"/>
<g clip-path="url(#c2685)">
<text x="236.8" y="334" font-size="5.3" fill="#474747">First 1</text>
</g>
<clipPath id="c1915"><rect x="149.6" y="419.7" width="34.3" height="17"/></clipPath>
<rect x="149.6" y="419.7" width="34.3" height="17" fill="#fff" stroke="#767676" stroke-width="0.85"/>
<g clip-path="url(#c1915)">
<text x="150.6" y="426.3" font-size="5.3" fill="#474747">Count -</text>
<text x="150.6" y="433.3" font-size="5.3" fill="#474747">Descending</text>
</g>
<clipPath id="c2371"><rect x="195.2" y="419.7" width="20.6" height="10"/></clipPath>
<rect x="195.2" y="419.7" width="20.6" height="10" fill="#fff" stroke="#767676" stroke-width="0.85"/>
<g clip-path="url(#c2371)">
<text x="196.2" y="426.3" font-size="5.3" fill="#474747">First 1</text>
</g>
<clipPath id="c3312"><rect x="288.7" y="425.7" width="47.2" height="16.5"/></clipPath>
<rect x="288.7" y="425.7" width="47.2" height="16.5" fill="#fff" stroke="#767676" stroke-width="0.85"/>
<g clip-path="url(#c3312)">
<text x="289.7" y="432.3" font-size="5.3" fill="#474747">Answer5 =</text>
<text x="289.7" y="439.05" font-size="5.3" fill="#474747">[Count]/[c_num]</text>
</g>
<clipPath id="c2020"><rect x="149.6" y="524.2" width="41.3" height="16.8"/></clipPath>
<rect x="149.6" y="524.2" width="41.3" height="16.8" fill="#fff" stroke="#767676" stroke-width="0.85"/>
<g clip-path="url(#c2020)">
<text x="150.6" y="530.8" font-size="5.3" fill="#474747">[country_jp] =</text>
<text x="150.6" y="537.7" font-size="5.3" fill="#474747">&quot;Egypt&quot;</text>
</g>
<clipPath id="c2219"><rect x="149.3" y="726.5" width="27.7" height="10.2"/></clipPath>
<rect x="149.3" y="726.5" width="27.7" height="10.2" fill="#fff" stroke="#767676" stroke-width="0.85"/>
<g clip-path="url(#c2219)">
<text x="149.9" y="732.7" font-size="4.9" fill="#333" font-weight="500">メッセージ</text>
</g>
<clipPath id="c441"><rect x="16.1" y="280.4" width="38.9" height="18.2"/></clipPath>
<rect x="16.1" y="280.4" width="38.9" height="18.2" fill="#fff" stroke="#767676" stroke-width="0.85"/>
<g clip-path="url(#c441)">
<text x="17.1" y="287" font-size="5.3" fill="#474747">Certification</text>
<text x="17.1" y="294.6" font-size="5.3" fill="#474747">Exam Results</text>
</g>
<clipPath id="c835"><rect x="16.1" y="674.2" width="18" height="10.3"/></clipPath>
<rect x="16.1" y="674.2" width="18" height="10.3" fill="#fff" stroke="#767676" stroke-width="0.85"/>
<g clip-path="url(#c835)">
<text x="16.7" y="680.4" font-size="4.9" fill="#333" font-weight="500">コード</text>
</g>
</svg>
</body></html>
